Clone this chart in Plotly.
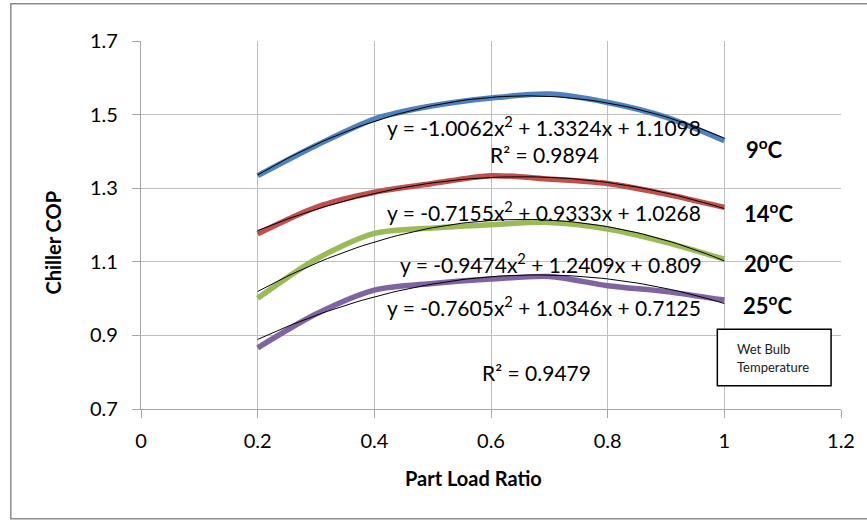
import numpy as np
import plotly.graph_objects as go

# ---- data ----
part_load = [0.2, 0.3, 0.4, 0.5, 0.6, 0.7, 0.8, 0.9, 1.0]
cop_9c = [1.334, 1.416, 1.488, 1.524, 1.545, 1.556, 1.533, 1.493, 1.429]
cop_14c = [1.176, 1.248, 1.289, 1.313, 1.334, 1.325, 1.313, 1.284, 1.248]
cop_20c = [1.001, 1.107, 1.177, 1.192, 1.201, 1.207, 1.189, 1.153, 1.107]
cop_25c = [0.866, 0.958, 1.023, 1.041, 1.053, 1.060, 1.035, 1.019, 0.996]

# polynomial trendline coefficients shown on the chart (a, b, c for a*x^2 + b*x + c)
trend_9c = [-1.0062, 1.3324, 1.1098]
trend_14c = [-0.7155, 0.9333, 1.0268]
trend_20c = [-0.9474, 1.2409, 0.809]
trend_25c = [-0.7605, 1.0346, 0.7125]

series_names = ["9\u00baC", "14\u00baC", "20\u00baC", "25\u00baC"]
label_texts = ["9<sup>o</sup>C", "14<sup>o</sup>C", "20<sup>o</sup>C", "25<sup>o</sup>C"]
colors = ["#4F81BD", "#C0504D", "#9BBB59", "#8064A2"]

x_ticks = [0, 0.2, 0.4, 0.6, 0.8, 1, 1.2]
x_tick_text = ["0", "0.2", "0.4", "0.6", "0.8", "1", "1.2"]
y_ticks = [0.7, 0.9, 1.1, 1.3, 1.5, 1.7]
y_tick_text = ["0.7", "0.9", "1.1", "1.3", "1.5", "1.7"]

FONT = "Lato, 'Open Sans', sans-serif"

fig = go.Figure()

all_series = [cop_9c, cop_14c, cop_20c, cop_25c]
all_trends = [trend_9c, trend_14c, trend_20c, trend_25c]

for name, vals, col in zip(series_names, all_series, colors):
    fig.add_trace(go.Scatter(
        x=part_load, y=vals, mode="lines", name=name,
        line=dict(color=col, width=5.5, shape="spline", smoothing=0.8),
        showlegend=False,
    ))

xs = np.linspace(part_load[0], part_load[-1], 81)
for name, coef in zip(series_names, all_trends):
    fig.add_trace(go.Scatter(
        x=xs, y=np.polyval(coef, xs), mode="lines",
        name="Poly. (" + name + ")",
        line=dict(color="#000000", width=1),
        showlegend=False,
    ))

eq_font = dict(family=FONT, size=21, color="#000000")
annots = [
    dict(x=0.691, y=1.470, text="y = -1.0062x<sup>2</sup> + 1.3324x + 1.1098"),
    dict(x=0.692, y=1.391, text="R\u00b2 = 0.9894"),
    dict(x=0.691, y=1.239, text="y = -0.7155x<sup>2</sup> + 0.9333x + 1.0268"),
    dict(x=0.702, y=1.098, text="y = -0.9474x<sup>2</sup> + 1.2409x + 0.809"),
    dict(x=0.691, y=0.980, text="y = -0.7605x<sup>2</sup> + 1.0346x + 0.7125"),
    dict(x=0.678, y=0.799, text="R\u00b2 = 0.9479"),
]
for a in annots:
    fig.add_annotation(x=a["x"], y=a["y"], text=a["text"], showarrow=False,
                       xanchor="center", yanchor="middle", font=eq_font)

label_pos = [(1.033, 1.408), (1.030, 1.233), (1.030, 1.097), (1.028, 0.983)]
for txt, (lx, ly) in zip(label_texts, label_pos):
    fig.add_annotation(x=lx, y=ly, text="<b>" + txt + "</b>", showarrow=False,
                       xanchor="left", yanchor="middle",
                       font=dict(family=FONT, size=22, color="#000000"))

# Wet Bulb Temperature box
fig.add_shape(type="rect", xref="x", yref="y", x0=0.988, x1=1.183, y0=0.763, y1=0.917,
              line=dict(color="#000000", width=1.5), fillcolor="#FFFFFF", layer="above")
fig.add_annotation(x=1.019, y=0.863, text="Wet Bulb", showarrow=False, xanchor="left",
                   yanchor="middle", font=dict(family=FONT, size=13, color="#1a1a1a"))
fig.add_annotation(x=1.019, y=0.814, text="Temperature", showarrow=False, xanchor="left",
                   yanchor="middle", font=dict(family=FONT, size=13, color="#1a1a1a"))

# axis titles placed as in the reference
fig.add_annotation(xref="paper", yref="paper", x=0.4744, y=-0.1875, text="<b>Part Load Ratio</b>",
                   showarrow=False, xanchor="center", yanchor="middle",
                   font=dict(family=FONT, size=20, color="#000000"))
fig.add_annotation(xref="paper", yref="paper", x=-0.125, y=0.451, text="<b>Chiller COP</b>",
                   showarrow=False, xanchor="center", yanchor="middle", textangle=-90,
                   font=dict(family=FONT, size=20, color="#000000"))

# outer chart border
fig.add_shape(type="rect", xref="paper", yref="paper", x0=-0.186, x1=1.06, y0=-0.2985, y1=1.101,
              line=dict(color="#8c8c8c", width=1.5), layer="below")

fig.update_layout(
    width=867, height=521,
    margin=dict(l=141, r=22, t=41, b=112),
    paper_bgcolor="#FFFFFF", plot_bgcolor="#FFFFFF",
    showlegend=False,
    font=dict(family=FONT, color="#000000"),
)
fig.update_xaxes(
    range=[0, 1.2], tickvals=x_ticks, ticktext=x_tick_text,
    showgrid=True, gridcolor="#bfbfbf", gridwidth=1,
    showline=True, linecolor="#a6a6a6", linewidth=1.2,
    ticks="outside", ticklen=8, tickcolor="#a6a6a6",
    tickfont=dict(family=FONT, size=20, color="#000000"),
    ticklabelstandoff=6,
    zeroline=False,
)
fig.update_yaxes(
    range=[0.7, 1.7], tickvals=y_ticks, ticktext=y_tick_text,
    showgrid=True, gridcolor="#bfbfbf", gridwidth=1,
    showline=True, linecolor="#a6a6a6", linewidth=1.2,
    ticks="outside", ticklen=8, tickcolor="#a6a6a6",
    tickfont=dict(family=FONT, size=20, color="#000000"),
    ticklabelstandoff=10,
    zeroline=False,
)

fig.write_html("out.html")
